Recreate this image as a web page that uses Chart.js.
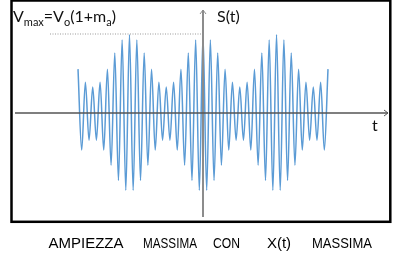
<!DOCTYPE html>
<html><head><meta charset="utf-8">
<script src="https://cdn.jsdelivr.net/npm/chart.js@4"></script>
<style>html,body{margin:0;padding:0;background:#fff;overflow:hidden}canvas{display:block}</style>
</head><body>
<canvas id="c" width="409" height="254"></canvas>
<script>
// time (in carrier periods) of each extremum of the AM signal
const times = [-17,-16.5,-16,-15.5,-15,-14.5,-14,-13.5,-13,-12.5,-12,-11.5,-11,-10.5,-10,-9.5,-9,-8.5,-8,-7.5,-7,-6.5,-6,-5.5,-5,-4.5,-4,-3.5,-3,-2.5,-2,-1.5,-1,-0.5,0,0.5,1,1.5,2,2.5,3,3.5,4,4.5,5,5.5,6,6.5,7,7.5,8,8.5,9,9.5,10,10.5,11,11.5,12,12.5,13,13.5,14,14.5,15,15.5,16,16.5,17];
// signal value at each extremum (units of Vo)
const signal = [0.84,-0.71,0.59,-0.52,0.50,-0.52,0.59,-0.71,0.84,-1.00,1.15,-1.29,1.40,-1.48,1.50,-1.48,1.40,-1.29,1.15,-1.00,0.84,-0.71,0.59,-0.52,0.50,-0.52,0.59,-0.71,0.84,-1.00,1.15,-1.29,1.40,-1.48,1.50,-1.48,1.40,-1.29,1.15,-1.00,0.84,-0.71,0.59,-0.52,0.50,-0.52,0.59,-0.71,0.84,-1.00,1.15,-1.29,1.40,-1.48,1.50,-1.48,1.40,-1.29,1.15,-1.00,0.84,-0.71,0.59,-0.52,0.50,-0.52,0.59,-0.71,0.84];
const vMax = 1.5;
const yAxisLabel = 'S(t)';
const xAxisLabel = 't';
const captionWords = ['AMPIEZZA','MASSIMA','CON','X(t)','MASSIMA'];

const points = times.map((t,i)=>({x:t,y:signal[i]}));

const overlay = {
  id:'overlay',
  afterDatasetsDraw(chart){
    const ctx=chart.ctx, xs=chart.scales.x, ys=chart.scales.y;
    const x0=xs.getPixelForValue(0), y0=ys.getPixelForValue(0);
    const L=xs.left, R=xs.right, T=ys.top, B=ys.bottom;
    ctx.save();
    // dotted reference line at Vmax
    const yv=Math.round(ys.getPixelForValue(vMax))-0.5;
    ctx.strokeStyle='#9a9a9a'; ctx.lineWidth=1; ctx.setLineDash([1,1.5]);
    ctx.beginPath(); ctx.moveTo(50,yv-0.5); ctx.lineTo(x0,yv-0.5); ctx.stroke();
    ctx.setLineDash([]);
    // y axis
    ctx.strokeStyle='#8c8c8c'; ctx.lineWidth=2;
    ctx.beginPath(); ctx.moveTo(x0,T); ctx.lineTo(x0,B); ctx.stroke();
    ctx.lineWidth=1;
    ctx.beginPath(); ctx.moveTo(x0-3,T+4); ctx.lineTo(x0,T); ctx.lineTo(x0+3,T+4); ctx.stroke();
    // x axis
    ctx.strokeStyle='#555'; ctx.lineWidth=1.5;
    ctx.beginPath(); ctx.moveTo(L,y0); ctx.lineTo(R,y0); ctx.stroke();
    ctx.lineWidth=1;
    ctx.beginPath(); ctx.moveTo(R-4,y0-3); ctx.lineTo(R,y0); ctx.lineTo(R-4,y0+3); ctx.stroke();
    // labels
    ctx.fillStyle='#111'; ctx.textBaseline='alphabetic'; ctx.textAlign='left';
    ctx.font='16px Lato';
    ctx.fillText(yAxisLabel, x0+14, 22);
    ctx.fillText(xAxisLabel, R-16, 131);
    // Vmax = Vo(1+ma)
    const parts=[['V',16,0],['max',11,4],['=V',16,0],['o',11,4],['(1+m',16,0],['a',11,4],[')',16,0]];
    let x=13;
    for(const [s,sz,dy] of parts){ ctx.font=sz+'px Lato'; ctx.fillText(s,x,22+dy); x+=ctx.measureText(s).width; }
    // caption
    ctx.textAlign='center'; ctx.font='15px "Liberation Sans"'; ctx.fillStyle='#000';
    const cx=[86,170,226.5,279,342], cw=[78,54,27,32,60];
    captionWords.forEach((w,i)=>ctx.fillText(w,cx[i],248,cw[i]));
    ctx.restore();
  },
  afterDraw(chart){
    const ctx=chart.ctx;
    ctx.save();
    ctx.strokeStyle='#000'; ctx.lineWidth=2.5;
    ctx.strokeRect(11.5,0.5,378.8,221.3);
    ctx.restore();
  }
};

new Chart(document.getElementById('c'),{
  type:'line',
  data:{datasets:[{data:points,borderColor:'#5b9bd5',borderWidth:1.5,pointRadius:0,cubicInterpolationMode:'monotone',fill:false}]},
  options:{
    responsive:false,animation:false,devicePixelRatio:1,
    layout:{padding:{left:15,right:21,top:10,bottom:37}},
    plugins:{legend:{display:false},tooltip:{enabled:false}},
    scales:{
      x:{type:'linear',display:false,min:-25.57,max:25.16},
      y:{type:'linear',display:false,min:-1.992,max:1.973}
    }
  },
  plugins:[overlay]
});
</script>
</body></html>
